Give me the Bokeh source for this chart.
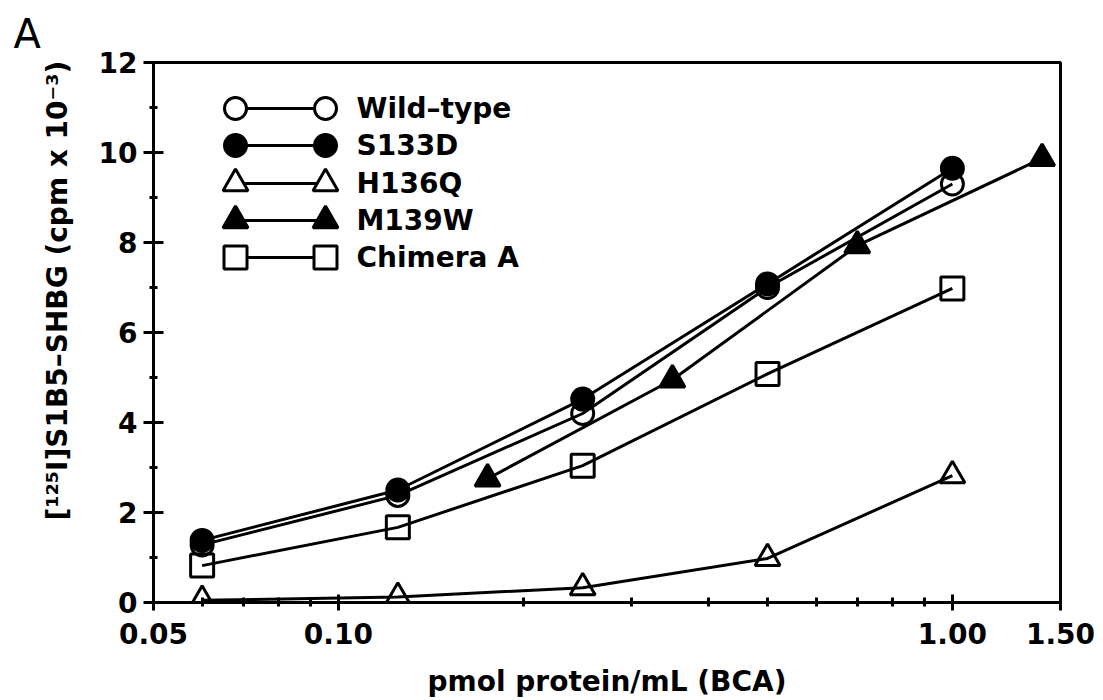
import math
from bokeh.plotting import figure
from bokeh.models import Range1d, FixedTicker, NumeralTickFormatter, Title
from bokeh.core.properties import value
from bokeh.embed import file_html
from bokeh.resources import INLINE

# ---------------- data ----------------
dose = [0.06, 0.125, 0.25, 0.5, 1.0]
wild_type = [1.28, 2.38, 4.20, 7.00, 9.30]
s133d = [1.38, 2.50, 4.52, 7.08, 9.65]
h136q = [0.05, 0.12, 0.33, 0.98, 2.82]
chimera_a = [0.82, 1.67, 3.04, 5.08, 6.98]
m139w_dose = [0.175, 0.35, 0.70, 1.40]
m139w = [2.75, 4.95, 7.93, 9.87]

series_names = ["Wild–type", "S133D", "H136Q", "M139W", "Chimera A"]
x_ticks = [0.05, 0.1, 1.0, 1.5]
x_minor = [0.06, 0.07, 0.08, 0.09, 0.2, 0.3, 0.4, 0.5, 0.6, 0.7, 0.8, 0.9]
y_ticks = [0, 2, 4, 6, 8, 10, 12]
y_minor = [1, 3, 5, 7, 9, 11]

XMIN, XMAX = 0.05, 1.5
YMIN, YMAX = 0, 12

FONT = "DejaVu Sans"
W, H = 1103, 700
FL, FR, FT, FB = 153, 1060, 62, 602  # frame edges in pixels

p = figure(width=W, height=H, x_axis_type="log",
           x_range=Range1d(XMIN, XMAX), y_range=Range1d(YMIN, YMAX),
           output_backend="svg", toolbar_location=None,
           min_border_left=FL, min_border_right=W - FR,
           min_border_top=FT, min_border_bottom=H - FB)
p.grid.visible = False
p.background_fill_color = "white"
p.border_fill_color = "white"
p.outline_line_color = "black"
p.outline_line_width = 3

# axes
xa = p.xaxis[0]
xa.ticker = FixedTicker(ticks=x_ticks, minor_ticks=x_minor)
xa.formatter = NumeralTickFormatter(format="0.00")
ya = p.yaxis[0]
ya.ticker = FixedTicker(ticks=y_ticks, minor_ticks=y_minor)
for ax in (xa, ya):
    ax.axis_line_width = 3
    ax.axis_line_color = "black"
    ax.major_tick_line_width = 3
    ax.minor_tick_line_width = 3
    ax.major_label_text_font = FONT
    ax.major_label_text_font_style = "bold"
    ax.major_label_text_font_size = "28px"
    ax.major_label_text_color = "black"
    ax.axis_label_text_font = FONT
    ax.axis_label_text_font_style = "bold"
    ax.axis_label_text_font_size = "28px"
    ax.axis_label_text_color = "black"
xa.major_tick_in = 8
xa.major_tick_out = 8
xa.minor_tick_in = 5
xa.minor_tick_out = 4
xa.major_label_standoff = 12
xa.axis_label = "pmol protein/mL (BCA)"
xa.axis_label_standoff = 18
ya.major_tick_in = 10
ya.major_tick_out = 10
ya.minor_tick_in = 4
ya.minor_tick_out = 4
ya.major_label_standoff = 6

LW = 3
# series
specs = [
    (dose, wild_type, "circle", False, 22),
    (dose, s133d, "circle", True, 22),
    (dose, h136q, "triangle", False, 25),
    (m139w_dose, m139w, "triangle", True, 25),
    (dose, chimera_a, "square", False, 23),
]
for xs, ys, marker, filled, size in specs:
    p.line(xs, ys, line_color="black", line_width=LW)
for xs, ys, marker, filled, size in specs:
    p.scatter(xs, ys, marker=marker, size=size, line_color="black",
              line_width=LW, fill_color="black",
              fill_alpha=1.0 if filled else 0.0)

# legend (positions are layout, converted from frame pixels)
def px2x(px):
    lo, hi = math.log10(XMIN), math.log10(XMAX)
    return 10 ** (lo + (px - FL) / (FR - FL) * (hi - lo))

def py2y(py):
    return YMAX - (py - FT) / (FB - FT) * (YMAX - YMIN)

leg_rows = [108, 145, 183, 220, 257]
for (xs, ys, marker, filled, size), name, ry in zip(specs, series_names, leg_rows):
    yv = py2y(ry)
    p.line([px2x(235), px2x(325)], [yv, yv], line_color="black", line_width=LW)
    p.scatter([px2x(235), px2x(325)], [yv, yv], marker=marker, size=size,
              line_color="black", line_width=LW, fill_color="white" if not filled else "black")
    p.text([px2x(356)], [yv], text=[name], text_font=value(FONT),
           text_font_style="bold", text_font_size="28px",
           text_baseline="middle", text_align="left", text_color="black")

# y-axis title as a left-side Title (offset upward like the reference)
ytitle = Title(text="[¹²⁵I]S1B5–SHBG (cpm x 10⁻³)", align="left", offset=82,
               text_font=FONT, text_font_style="bold", text_font_size="28px",
               text_color="black", standoff=44)
p.add_layout(ytitle, "left")

# panel letter
p.add_layout(Title(text="A", align="left", offset=-140, text_font=FONT,
                   text_font_style="normal", text_font_size="40px",
                   text_color="black", standoff=12), "above")

open("out.html", "w").write(file_html(p, INLINE))
